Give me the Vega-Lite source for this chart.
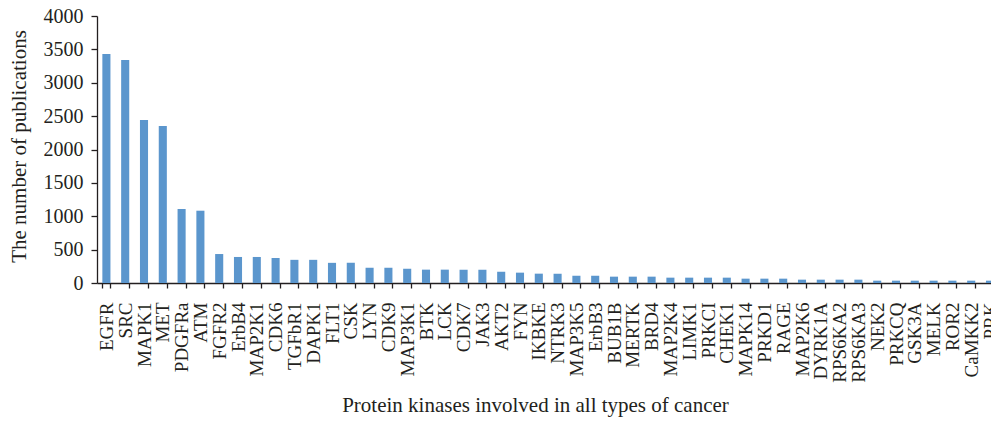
{
  "$schema": "https://vega.github.io/schema/vega-lite/v6.json",
  "width": 894,
  "height": 267,
  "autosize": {"type": "none"},
  "padding": {"left": 97, "top": 16, "right": 0, "bottom": 138},
  "background": "white",
  "config": {
    "view": {"stroke": null},
    "font": "Liberation Serif",
    "axis": {"labelFont": "Liberation Serif", "titleFont": "Liberation Serif", "labelColor": "#231f20", "titleColor": "#231f20", "domainColor": "#231f20", "tickColor": "#231f20", "titleFontWeight": "normal", "grid": false}
  },
  "data": {"values": [
    {"kinase": "EGFR", "n": 3431}, {"kinase": "SRC", "n": 3341}, {"kinase": "MAPK1", "n": 2442}, {"kinase": "MET", "n": 2352},
    {"kinase": "PDGFRa", "n": 1109}, {"kinase": "ATM", "n": 1083}, {"kinase": "FGFR2", "n": 434}, {"kinase": "ErbB4", "n": 390},
    {"kinase": "MAP2K1", "n": 390}, {"kinase": "CDK6", "n": 375}, {"kinase": "TGFbR1", "n": 347}, {"kinase": "DAPK1", "n": 347},
    {"kinase": "FLT1", "n": 302}, {"kinase": "CSK", "n": 302}, {"kinase": "LYN", "n": 229}, {"kinase": "CDK9", "n": 229},
    {"kinase": "MAP3K1", "n": 214}, {"kinase": "BTK", "n": 200}, {"kinase": "LCK", "n": 200}, {"kinase": "CDK7", "n": 200},
    {"kinase": "JAK3", "n": 200}, {"kinase": "AKT2", "n": 170}, {"kinase": "FYN", "n": 155}, {"kinase": "IKBKE", "n": 140},
    {"kinase": "NTRK3", "n": 140}, {"kinase": "MAP3K5", "n": 110}, {"kinase": "ErbB3", "n": 110}, {"kinase": "BUB1B", "n": 95},
    {"kinase": "MERTK", "n": 95}, {"kinase": "BRD4", "n": 95}, {"kinase": "MAP2K4", "n": 80}, {"kinase": "LIMK1", "n": 80},
    {"kinase": "PRKCI", "n": 80}, {"kinase": "CHEK1", "n": 80}, {"kinase": "MAPK14", "n": 65}, {"kinase": "PRKD1", "n": 65},
    {"kinase": "RAGE", "n": 65}, {"kinase": "MAP2K6", "n": 50}, {"kinase": "DYRK1A", "n": 50}, {"kinase": "RPS6KA2", "n": 50},
    {"kinase": "RPS6KA3", "n": 50}, {"kinase": "NEK2", "n": 35}, {"kinase": "PRKCQ", "n": 35}, {"kinase": "GSK3A", "n": 35},
    {"kinase": "MELK", "n": 35}, {"kinase": "ROR2", "n": 35}, {"kinase": "CaMKK2", "n": 35}, {"kinase": "PRK", "n": 35}
  ]},
  "mark": {"type": "bar", "color": "#5b96cd"},
  "encoding": {
    "x": {
      "field": "kinase", "type": "nominal", "sort": null,
      "scale": {"range": [0, 902.4], "paddingInner": 0.57, "paddingOuter": 0.285},
      "axis": {
        "title": "Protein kinases involved in all types of cancer",
        "titleFontSize": 21, "titleX": 438, "titleY": 128, "titleBaseline": "alphabetic", "titleAlign": "center",
        "labelAngle": -90, "labelFontSize": 19, "labelPadding": 14,
        "tickBand": "extent", "tickSize": 5, "domainWidth": 1.3, "tickWidth": 1.3,
        "labelOverlap": false, "labelBound": false, "labelFlush": false
      }
    },
    "y": {
      "field": "n", "type": "quantitative",
      "scale": {"domain": [0, 4000], "nice": false},
      "axis": {
        "title": "The number of publications",
        "titleFontSize": 21, "titleX": -72, "titleY": 130, "titleBaseline": "alphabetic", "titleAlign": "center", "titleAngle": -90,
        "format": "d",
        "values": [0, 500, 1000, 1500, 2000, 2500, 3000, 3500, 4000],
        "labelFontSize": 20, "labelPadding": 8, "tickSize": 6,
        "domainWidth": 1.3, "tickWidth": 1.3
      }
    }
  }
}
